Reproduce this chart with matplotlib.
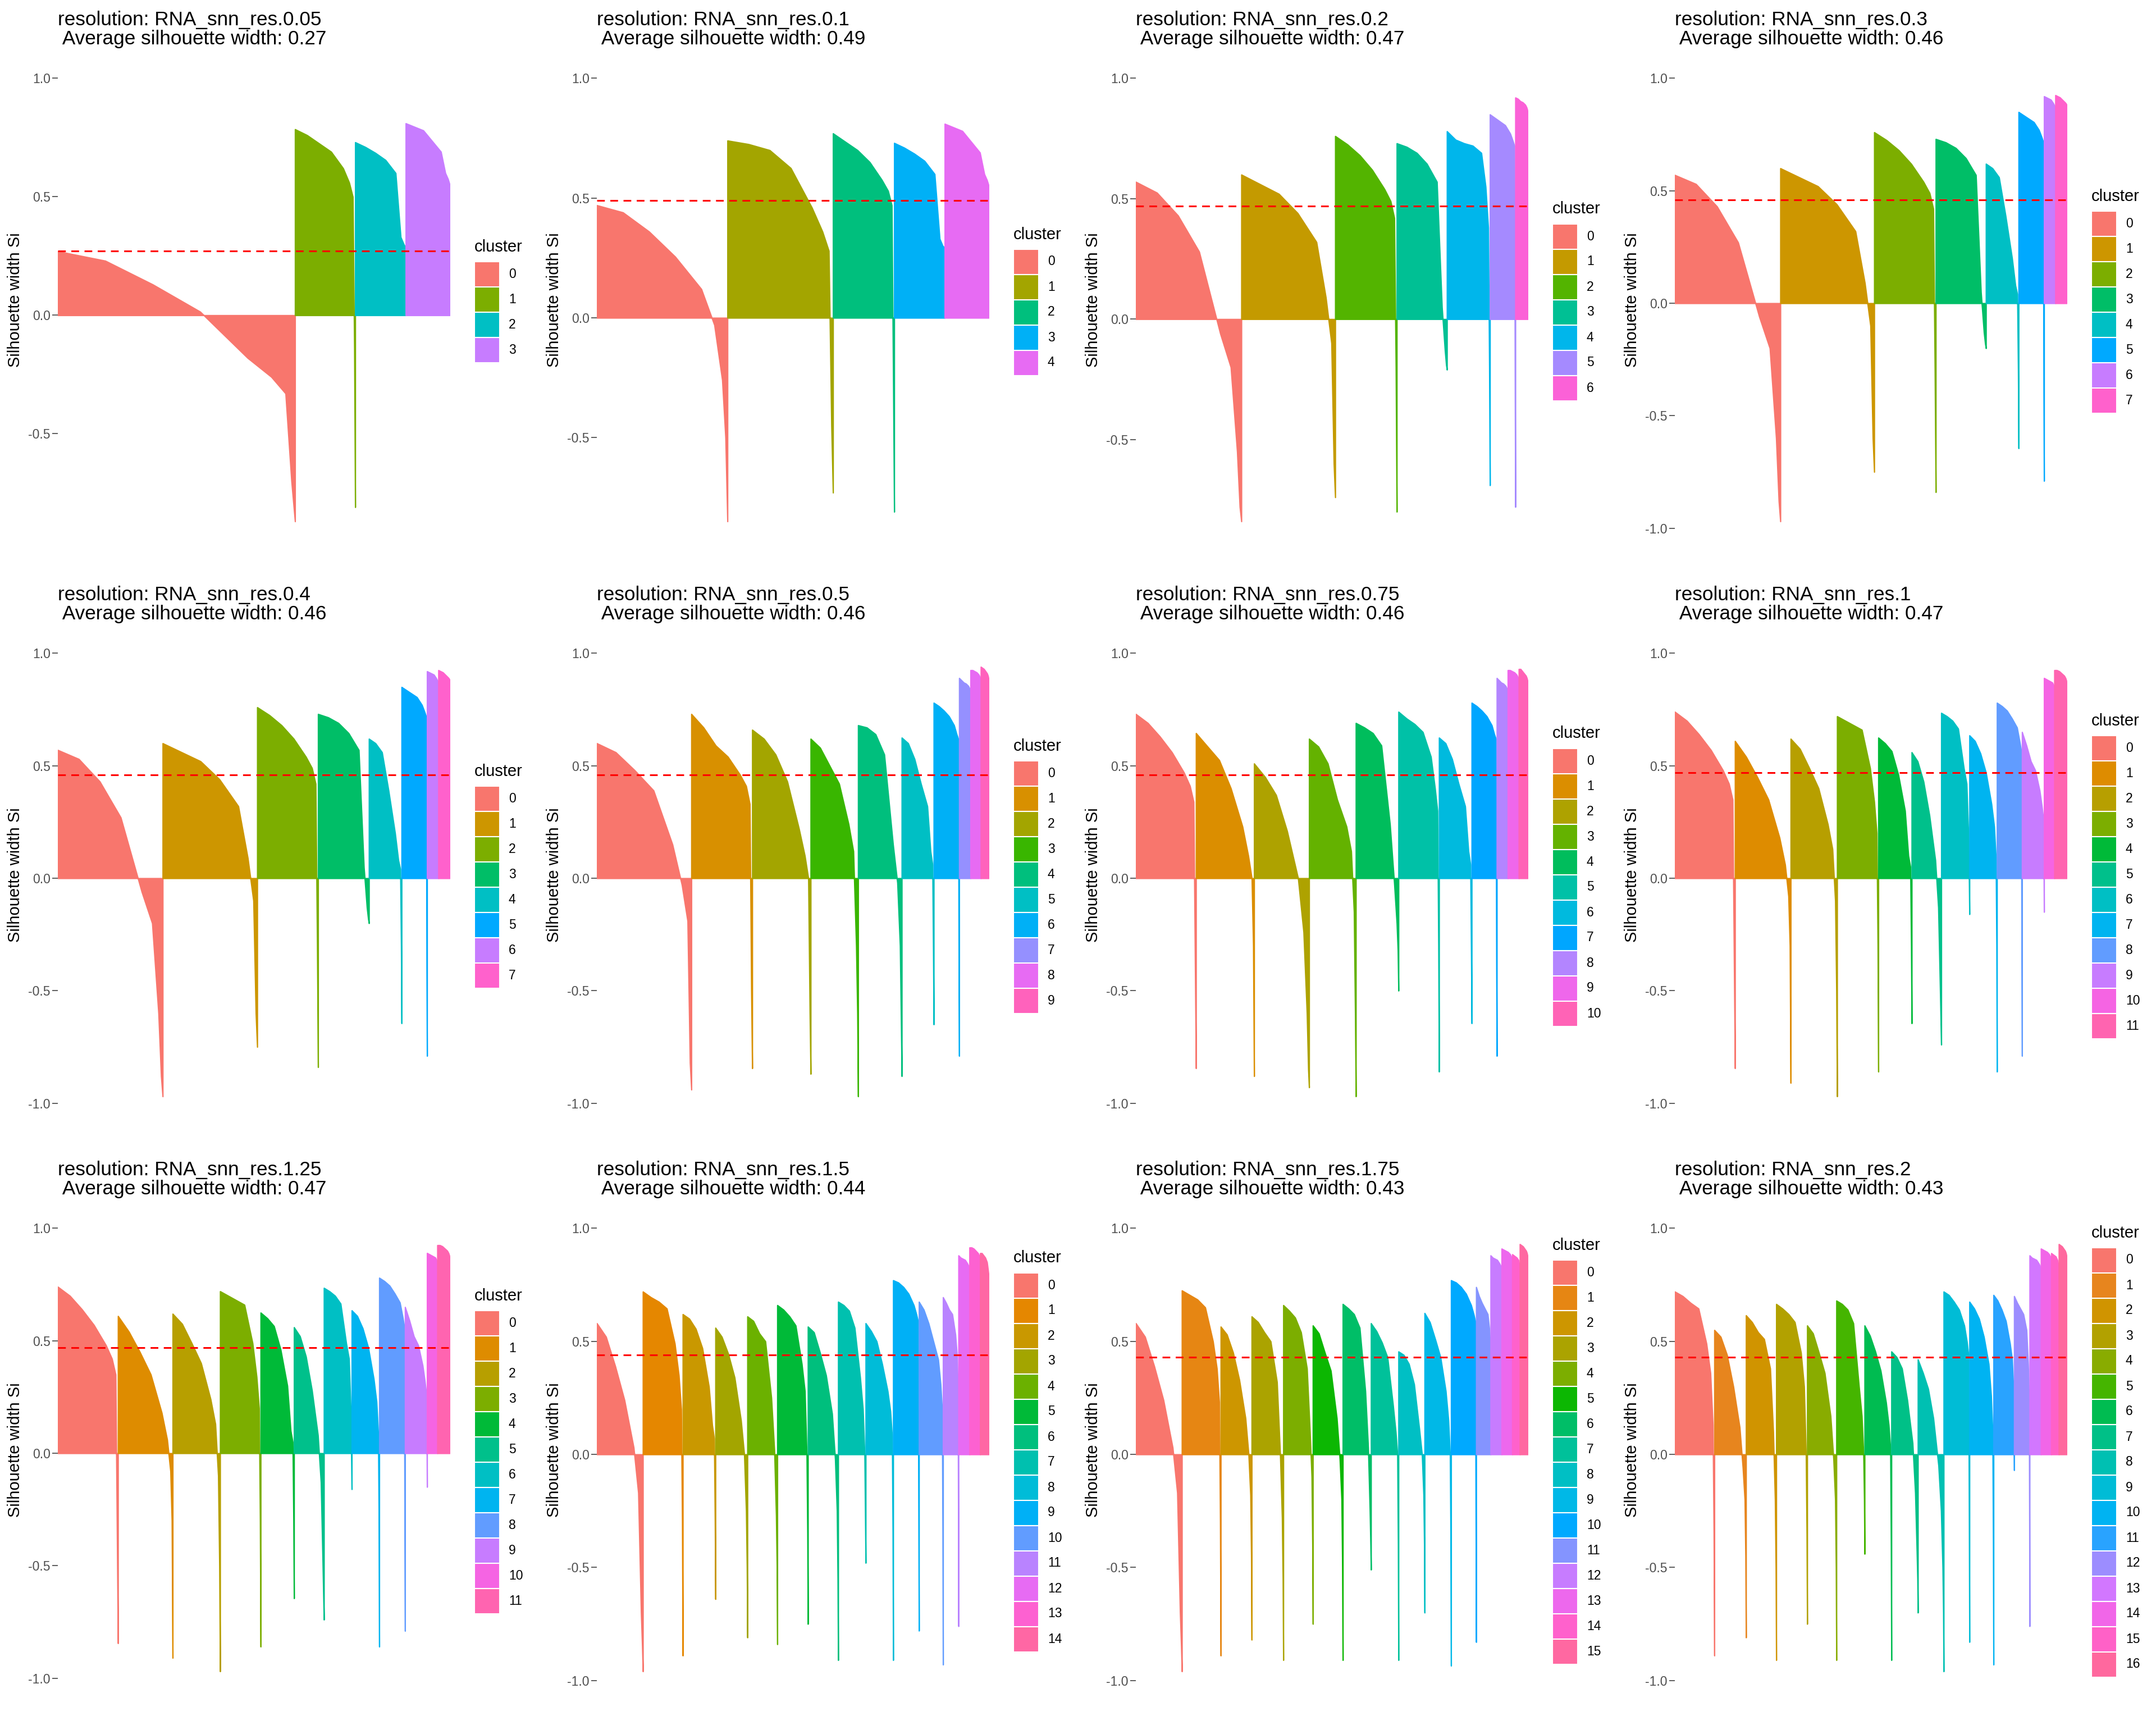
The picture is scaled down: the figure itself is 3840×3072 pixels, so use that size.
import numpy as np
import matplotlib
matplotlib.use("Agg")
import matplotlib.pyplot as plt
from matplotlib.patches import Rectangle

plt.rcParams['font.family'] = ['Liberation Sans', 'DejaVu Sans']

# ---------------- data ----------------
# relative positions inside each cluster where silhouette widths were read
KNOTS = [0.0, 0.2, 0.4, 0.6, 0.8, 0.9, 0.96, 0.985, 1.0]

resolutions = ["0.05", "0.1", "0.2", "0.3", "0.4", "0.5", "0.75", "1", "1.25", "1.5", "1.75", "2"]
avg_sil_width = [0.27, 0.49, 0.47, 0.46, 0.46, 0.46, 0.46, 0.47, 0.47, 0.44, 0.43, 0.43]

sizes_res_0_05 = [690, 175, 147, 128]
sil_res_0_05 = [
    [0.27, 0.23, 0.13, 0.015, -0.18, -0.26, -0.33, -0.7, -0.87],
    [0.785, 0.76, 0.725, 0.69, 0.62, 0.56, 0.5, -0.14, -0.81],
    [0.73, 0.71, 0.685, 0.655, 0.6, 0.33, 0.3, 0.29, 0.285],
    [0.81, 0.795, 0.78, 0.735, 0.69, 0.6, 0.575, 0.56, 0.55],
]

sizes_res_0_1 = [380, 307, 178, 147, 128]
sil_res_0_1 = [
    [0.47, 0.44, 0.36, 0.255, 0.12, -0.03, -0.26, -0.5, -0.85],
    [0.74, 0.725, 0.7, 0.625, 0.46, 0.36, 0.28, -0.45, -0.73],
    [0.77, 0.735, 0.7, 0.65, 0.575, 0.53, 0.47, -0.3, -0.81],
    [0.73, 0.71, 0.685, 0.655, 0.6, 0.33, 0.3, 0.295, 0.29],
    [0.81, 0.795, 0.78, 0.735, 0.69, 0.6, 0.575, 0.56, 0.55],
]

sizes_res_0_2 = [307, 273, 179, 146, 125, 74, 36]
sil_res_0_2 = [
    [0.57, 0.525, 0.43, 0.28, -0.06, -0.2, -0.55, -0.78, -0.84],
    [0.6, 0.56, 0.52, 0.44, 0.32, 0.09, -0.1, -0.6, -0.74],
    [0.76, 0.725, 0.68, 0.62, 0.54, 0.49, 0.42, -0.2, -0.8],
    [0.73, 0.715, 0.69, 0.645, 0.57, 0.05, -0.13, -0.19, -0.21],
    [0.78, 0.745, 0.73, 0.72, 0.69, 0.55, 0.38, -0.2, -0.69],
    [0.85, 0.835, 0.82, 0.805, 0.77, 0.74, 0.72, -0.3, -0.78],
    [0.92, 0.915, 0.905, 0.9, 0.89, 0.88, 0.87, 0.86, 0.85],
]

sizes_res_0_3 = [307, 273, 179, 146, 95, 74, 33, 33]
sil_res_0_3 = [
    [0.57, 0.53, 0.43, 0.27, -0.06, -0.2, -0.6, -0.88, -0.97],
    [0.6, 0.56, 0.52, 0.44, 0.32, 0.09, -0.1, -0.6, -0.75],
    [0.76, 0.725, 0.68, 0.62, 0.54, 0.49, 0.42, -0.3, -0.84],
    [0.73, 0.715, 0.69, 0.645, 0.57, 0.05, -0.13, -0.18, -0.2],
    [0.62, 0.6, 0.56, 0.39, 0.2, 0.08, 0.04, -0.3, -0.645],
    [0.85, 0.835, 0.82, 0.805, 0.77, 0.74, 0.72, -0.4, -0.79],
    [0.92, 0.915, 0.91, 0.905, 0.89, 0.88, 0.875, 0.872, 0.87],
    [0.925, 0.92, 0.915, 0.905, 0.895, 0.89, 0.885, 0.882, 0.88],
]

sizes_res_0_4 = [305, 275, 177, 148, 95, 74, 33, 33]
sil_res_0_4 = [
    [0.57, 0.53, 0.43, 0.27, -0.06, -0.2, -0.6, -0.88, -0.97],
    [0.6, 0.56, 0.52, 0.44, 0.32, 0.09, -0.1, -0.6, -0.75],
    [0.76, 0.725, 0.68, 0.62, 0.54, 0.49, 0.42, -0.3, -0.84],
    [0.73, 0.715, 0.69, 0.645, 0.57, 0.05, -0.13, -0.18, -0.2],
    [0.62, 0.6, 0.56, 0.39, 0.2, 0.08, 0.04, -0.3, -0.645],
    [0.85, 0.835, 0.82, 0.805, 0.77, 0.74, 0.72, -0.4, -0.79],
    [0.92, 0.915, 0.91, 0.905, 0.89, 0.88, 0.875, 0.872, 0.87],
    [0.925, 0.92, 0.915, 0.905, 0.895, 0.89, 0.885, 0.882, 0.88],
]

sizes_res_0_5 = [275, 177, 170, 138, 127, 93, 74, 33, 30, 23]
sil_res_0_5 = [
    [0.6, 0.56, 0.48, 0.39, 0.15, -0.03, -0.19, -0.82, -0.94],
    [0.73, 0.67, 0.59, 0.54, 0.46, 0.41, 0.33, -0.5, -0.845],
    [0.66, 0.62, 0.55, 0.43, 0.22, 0.1, 0.0, -0.6, -0.87],
    [0.62, 0.58, 0.5, 0.42, 0.24, 0.12, -0.3, -0.6, -0.97],
    [0.68, 0.67, 0.64, 0.55, 0.15, -0.02, -0.3, -0.65, -0.88],
    [0.625, 0.6, 0.53, 0.42, 0.32, 0.12, 0.06, -0.35, -0.65],
    [0.78, 0.765, 0.745, 0.72, 0.68, 0.64, 0.62, -0.4, -0.79],
    [0.89, 0.88, 0.87, 0.865, 0.855, 0.845, 0.84, 0.835, 0.83],
    [0.925, 0.925, 0.92, 0.915, 0.905, 0.895, 0.89, 0.885, 0.88],
    [0.94, 0.935, 0.93, 0.92, 0.91, 0.9, 0.89, 0.885, 0.88],
]

sizes_res_0_75 = [175, 169, 160, 136, 124, 118, 95, 73, 32, 32, 26]
sil_res_0_75 = [
    [0.73, 0.69, 0.63, 0.56, 0.47, 0.41, 0.34, -0.4, -0.845],
    [0.645, 0.585, 0.525, 0.4, 0.23, 0.1, 0.0, -0.3, -0.88],
    [0.51, 0.45, 0.37, 0.21, 0.0, -0.24, -0.6, -0.85, -0.93],
    [0.62, 0.585, 0.51, 0.35, 0.23, 0.12, -0.15, -0.6, -0.97],
    [0.69, 0.67, 0.645, 0.59, 0.24, -0.02, -0.2, -0.32, -0.5],
    [0.74, 0.71, 0.685, 0.65, 0.54, 0.4, 0.3, -0.3, -0.86],
    [0.625, 0.6, 0.53, 0.42, 0.32, 0.12, 0.06, -0.35, -0.645],
    [0.78, 0.765, 0.745, 0.72, 0.68, 0.64, 0.62, -0.4, -0.79],
    [0.89, 0.88, 0.87, 0.865, 0.855, 0.845, 0.84, 0.835, 0.83],
    [0.925, 0.925, 0.92, 0.915, 0.905, 0.895, 0.89, 0.885, 0.88],
    [0.93, 0.93, 0.92, 0.91, 0.9, 0.89, 0.88, 0.875, 0.87],
]

sizes_res_1 = [175, 162, 135, 120, 97, 86, 82, 80, 73, 64, 30, 36]
sil_res_1 = [
    [0.74, 0.7, 0.64, 0.57, 0.48, 0.42, 0.35, -0.4, -0.845],
    [0.61, 0.54, 0.45, 0.35, 0.18, 0.06, -0.08, -0.3, -0.91],
    [0.62, 0.575, 0.49, 0.4, 0.24, 0.13, -0.1, -0.5, -0.97],
    [0.72, 0.7, 0.68, 0.66, 0.49, 0.34, 0.2, -0.3, -0.86],
    [0.625, 0.6, 0.565, 0.46, 0.3, 0.1, 0.05, -0.3, -0.645],
    [0.56, 0.52, 0.43, 0.28, 0.08, -0.13, -0.49, -0.65, -0.74],
    [0.735, 0.72, 0.7, 0.665, 0.49, 0.42, 0.2, 0.0, -0.16],
    [0.635, 0.61, 0.555, 0.47, 0.33, 0.23, 0.09, -0.3, -0.86],
    [0.78, 0.765, 0.745, 0.71, 0.67, 0.61, 0.57, -0.3, -0.79],
    [0.65, 0.59, 0.52, 0.48, 0.39, 0.32, 0.27, 0.1, -0.15],
    [0.89, 0.885, 0.88, 0.875, 0.87, 0.86, 0.85, 0.84, 0.83],
    [0.925, 0.925, 0.92, 0.91, 0.9, 0.89, 0.88, 0.87, 0.865],
]

sizes_res_1_25 = [175, 159, 138, 118, 97, 87, 81, 80, 75, 64, 30, 36]
sil_res_1_25 = [
    [0.74, 0.7, 0.64, 0.57, 0.48, 0.42, 0.35, -0.4, -0.845],
    [0.61, 0.54, 0.45, 0.35, 0.18, 0.06, -0.08, -0.3, -0.91],
    [0.62, 0.575, 0.49, 0.4, 0.24, 0.13, -0.1, -0.5, -0.97],
    [0.72, 0.7, 0.68, 0.66, 0.49, 0.34, 0.2, -0.3, -0.86],
    [0.625, 0.6, 0.565, 0.46, 0.3, 0.1, 0.05, -0.3, -0.645],
    [0.56, 0.52, 0.43, 0.28, 0.08, -0.13, -0.49, -0.65, -0.74],
    [0.735, 0.72, 0.7, 0.665, 0.49, 0.42, 0.2, 0.0, -0.16],
    [0.635, 0.61, 0.555, 0.47, 0.33, 0.23, 0.09, -0.3, -0.86],
    [0.78, 0.765, 0.745, 0.71, 0.67, 0.61, 0.57, -0.3, -0.79],
    [0.65, 0.59, 0.52, 0.48, 0.39, 0.32, 0.27, 0.1, -0.15],
    [0.89, 0.885, 0.88, 0.875, 0.87, 0.86, 0.85, 0.84, 0.83],
    [0.925, 0.925, 0.92, 0.91, 0.9, 0.89, 0.88, 0.87, 0.865],
]

sizes_res_1_5 = [134, 116, 95, 93, 87, 89, 88, 80, 80, 75, 70, 45, 32, 31, 25]
sil_res_1_5 = [
    [0.58, 0.52, 0.39, 0.24, 0.03, -0.17, -0.7, -0.85, -0.96],
    [0.72, 0.695, 0.675, 0.645, 0.49, 0.35, 0.2, -0.3, -0.89],
    [0.62, 0.6, 0.555, 0.47, 0.3, 0.13, 0.07, -0.3, -0.64],
    [0.56, 0.52, 0.445, 0.34, 0.15, 0.0, -0.25, -0.5, -0.81],
    [0.61, 0.59, 0.535, 0.5, 0.25, 0.02, -0.27, -0.5, -0.84],
    [0.66, 0.64, 0.61, 0.57, 0.4, 0.28, 0.0, -0.35, -0.75],
    [0.565, 0.54, 0.45, 0.35, 0.18, -0.02, -0.25, -0.55, -0.91],
    [0.675, 0.66, 0.635, 0.56, 0.34, 0.2, 0.0, -0.3, -0.48],
    [0.58, 0.545, 0.5, 0.4, 0.28, 0.19, 0.08, -0.35, -0.91],
    [0.77, 0.76, 0.74, 0.71, 0.66, 0.62, 0.59, -0.3, -0.78],
    [0.675, 0.64, 0.58, 0.5, 0.42, 0.31, 0.2, -0.35, -0.93],
    [0.695, 0.67, 0.64, 0.62, 0.53, 0.44, 0.3, -0.3, -0.76],
    [0.88, 0.87, 0.865, 0.86, 0.845, 0.835, 0.82, 0.81, 0.8],
    [0.915, 0.915, 0.91, 0.9, 0.89, 0.88, 0.87, 0.86, 0.85],
    [0.89, 0.89, 0.88, 0.87, 0.85, 0.82, 0.8, 0.79, 0.78],
]

sizes_res_1_75 = [134, 113, 90, 92, 86, 87, 82, 80, 76, 77, 73, 42, 32, 31, 22, 23]
sil_res_1_75 = [
    [0.58, 0.52, 0.39, 0.24, 0.03, -0.17, -0.7, -0.85, -0.96],
    [0.725, 0.705, 0.685, 0.65, 0.5, 0.38, 0.23, -0.3, -0.89],
    [0.565, 0.53, 0.45, 0.33, 0.16, 0.0, -0.18, -0.45, -0.82],
    [0.61, 0.585, 0.54, 0.5, 0.32, 0.0, -0.28, -0.55, -0.91],
    [0.66, 0.635, 0.605, 0.54, 0.38, 0.1, -0.1, -0.4, -0.75],
    [0.57, 0.535, 0.45, 0.37, 0.16, -0.02, -0.2, -0.5, -0.91],
    [0.665, 0.645, 0.62, 0.56, 0.28, 0.03, -0.25, -0.4, -0.51],
    [0.58, 0.545, 0.495, 0.43, 0.22, 0.1, 0.0, -0.4, -0.91],
    [0.455, 0.44, 0.4, 0.31, 0.11, 0.0, -0.18, -0.4, -0.7],
    [0.625, 0.585, 0.51, 0.43, 0.28, 0.15, 0.0, -0.4, -0.935],
    [0.77, 0.76, 0.74, 0.71, 0.66, 0.62, 0.59, -0.3, -0.83],
    [0.74, 0.7, 0.67, 0.645, 0.62, 0.56, 0.5, 0.49, 0.48],
    [0.88, 0.87, 0.865, 0.86, 0.845, 0.835, 0.82, 0.81, 0.8],
    [0.91, 0.905, 0.9, 0.895, 0.885, 0.875, 0.86, 0.85, 0.84],
    [0.885, 0.88, 0.875, 0.87, 0.86, 0.845, 0.83, 0.82, 0.81],
    [0.93, 0.925, 0.92, 0.91, 0.9, 0.89, 0.88, 0.87, 0.86],
]

sizes_res_2 = [115, 92, 88, 90, 85, 82, 78, 77, 75, 75, 70, 60, 45, 33, 30, 22, 23]
sil_res_2 = [
    [0.72, 0.7, 0.67, 0.645, 0.49, 0.36, 0.13, -0.35, -0.89],
    [0.55, 0.52, 0.44, 0.3, 0.12, -0.06, -0.2, -0.45, -0.81],
    [0.615, 0.585, 0.54, 0.51, 0.38, 0.1, -0.2, -0.5, -0.91],
    [0.665, 0.645, 0.62, 0.585, 0.45, 0.3, 0.0, -0.35, -0.75],
    [0.57, 0.535, 0.45, 0.36, 0.17, -0.02, -0.2, -0.5, -0.91],
    [0.68, 0.665, 0.64, 0.58, 0.3, 0.17, 0.0, -0.2, -0.44],
    [0.57, 0.525, 0.455, 0.37, 0.23, 0.13, 0.03, -0.4, -0.91],
    [0.455, 0.43, 0.38, 0.24, 0.05, -0.17, -0.43, -0.55, -0.7],
    [0.42, 0.36, 0.29, 0.16, -0.05, -0.25, -0.5, -0.7, -0.96],
    [0.72, 0.705, 0.675, 0.64, 0.57, 0.5, 0.44, -0.3, -0.83],
    [0.675, 0.645, 0.6, 0.52, 0.4, 0.26, 0.1, -0.4, -0.93],
    [0.705, 0.68, 0.64, 0.59, 0.49, 0.42, 0.3, 0.1, -0.07],
    [0.7, 0.67, 0.645, 0.62, 0.55, 0.4, 0.25, -0.3, -0.76],
    [0.88, 0.87, 0.865, 0.86, 0.845, 0.835, 0.82, 0.81, 0.8],
    [0.91, 0.905, 0.9, 0.895, 0.885, 0.875, 0.86, 0.85, 0.84],
    [0.89, 0.885, 0.88, 0.875, 0.86, 0.845, 0.83, 0.82, 0.81],
    [0.93, 0.925, 0.92, 0.91, 0.9, 0.89, 0.88, 0.87, 0.86],
]

all_sizes = [sizes_res_0_05, sizes_res_0_1, sizes_res_0_2, sizes_res_0_3,
             sizes_res_0_4, sizes_res_0_5, sizes_res_0_75, sizes_res_1,
             sizes_res_1_25, sizes_res_1_5, sizes_res_1_75, sizes_res_2]
all_sil = [sil_res_0_05, sil_res_0_1, sil_res_0_2, sil_res_0_3,
           sil_res_0_4, sil_res_0_5, sil_res_0_75, sil_res_1,
           sil_res_1_25, sil_res_1_5, sil_res_1_75, sil_res_2]


# ---------------- colours (ggplot2 hue palette) ----------------
def _gtrans(u):
    return 1.055 * u ** (1 / 2.4) - 0.055 if u > 0.00304 else 12.92 * u


def hcl_hex(h, c=100.0, l=65.0):
    hr = np.deg2rad(h)
    U, V = c * np.cos(hr), c * np.sin(hr)
    Y = 100 * (((l + 16) / 116) ** 3 if l > 7.999592 else l / 903.3)
    u = U / (13 * l) + 0.1978398
    v = V / (13 * l) + 0.4683363
    X = 9.0 * Y * u / (4 * v)
    Z = -X / 3 - 5 * Y + 3 * Y / v
    r = _gtrans((3.240479 * X - 1.537150 * Y - 0.498535 * Z) / 100)
    g = _gtrans((-0.969256 * X + 1.875992 * Y + 0.041556 * Z) / 100)
    b = _gtrans((0.055648 * X - 0.204043 * Y + 1.057311 * Z) / 100)
    rgb = [min(max(x, 0.0), 1.0) for x in (r, g, b)]
    return '#%02X%02X%02X' % tuple(int(round(x * 255)) for x in rgb)


def hue_pal(n):
    return [hcl_hex(h) for h in np.linspace(15, 375, n + 1)[:-1]]


# ---------------- layout (pixels) ----------------
W, H = 3840, 3072
DPI = 100
COL_W, ROW_H = 960, 1024
AX_L, AX_R, AX_T, AX_B = 103, 801, 100, 968
KEY_X, KEY_W, KEY_H = 845, 45, 45
LAB_X = 906
TITLE_FS, AXT_FS, TICK_FS = 25.3, 21, 16.5

fig = plt.figure(figsize=(W / DPI, H / DPI), dpi=DPI, facecolor='white')


def fx(px):
    return px / W


def fy(py):
    return 1 - py / H


for p, (res, avg, sizes, sil) in enumerate(zip(resolutions, avg_sil_width, all_sizes, all_sil)):
    r, c = divmod(p, 4)
    ox, oy = c * COL_W, r * ROW_H
    ax = fig.add_axes([fx(ox + AX_L), fy(oy + AX_B), (AX_R - AX_L) / W, (AX_B - AX_T) / H])
    cols = hue_pal(len(sizes))
    starts = np.concatenate([[0], np.cumsum(sizes)[:-1]])
    knots = np.array(KNOTS)
    ymin = min(min(v) for v in sil)
    for i, (s0, n, vals) in enumerate(zip(starts, sizes, sil)):
        xs = s0 + knots * n
        ax.fill_between(xs, 0, vals, facecolor=cols[i], edgecolor=cols[i],
                        linewidth=1.6, zorder=2)
    ax.axhline(avg, color='#FF0000', lw=2.2, linestyle=(0, (4.5, 3.2)), zorder=3)
    total = float(sum(sizes))
    rng = 1.0 - ymin
    lo, hi = ymin - 0.05 * rng, 1.0 + 0.05 * rng
    ax.set_xlim(0, total)
    ax.set_ylim(lo, hi)
    ticks = [t for t in [-1.0, -0.5, 0.0, 0.5, 1.0] if lo <= t <= hi]
    ax.set_yticks(ticks)
    ax.set_yticklabels(['%.1f' % t for t in ticks])
    ax.set_xticks([])
    for sp in ax.spines.values():
        sp.set_visible(False)
    ax.tick_params(axis='y', length=7, width=1.1, color='#333333',
                   labelcolor='#4D4D4D', labelsize=TICK_FS, pad=2.5)
    ax.set_facecolor('white')

    # title
    fig.text(fx(ox + AX_L), fy(oy + 19),
             "resolution: RNA_snn_res.%s\n Average silhouette width: %.2f" % (res, avg),
             ha='left', va='top', fontsize=TITLE_FS, linespacing=1.05, color='black')
    # y-axis title
    fig.text(fx(ox + 27), fy(oy + (AX_T + AX_B) / 2), "Silhouette width Si",
             rotation=90, ha='center', va='center', fontsize=AXT_FS, color='black')

    # legend
    n = len(sizes)
    title_h, gap = 36, 8
    total_h = title_h + gap + n * KEY_H
    top = oy + (AX_T + AX_B) / 2 - total_h / 2
    fig.text(fx(ox + KEY_X), fy(top + title_h / 2), "cluster",
             ha='left', va='center', fontsize=AXT_FS, color='black')
    for i in range(n):
        y0 = top + title_h + gap + i * KEY_H
        fig.add_artist(Rectangle((fx(ox + KEY_X), fy(y0 + KEY_H)), KEY_W / W, KEY_H / H,
                                 transform=fig.transFigure, facecolor=cols[i],
                                 edgecolor='white', linewidth=1.5))
        fig.text(fx(ox + LAB_X), fy(y0 + KEY_H / 2), str(i),
                 ha='left', va='center', fontsize=TICK_FS, color='black')

fig.savefig('out.png', dpi=DPI, facecolor='white')
